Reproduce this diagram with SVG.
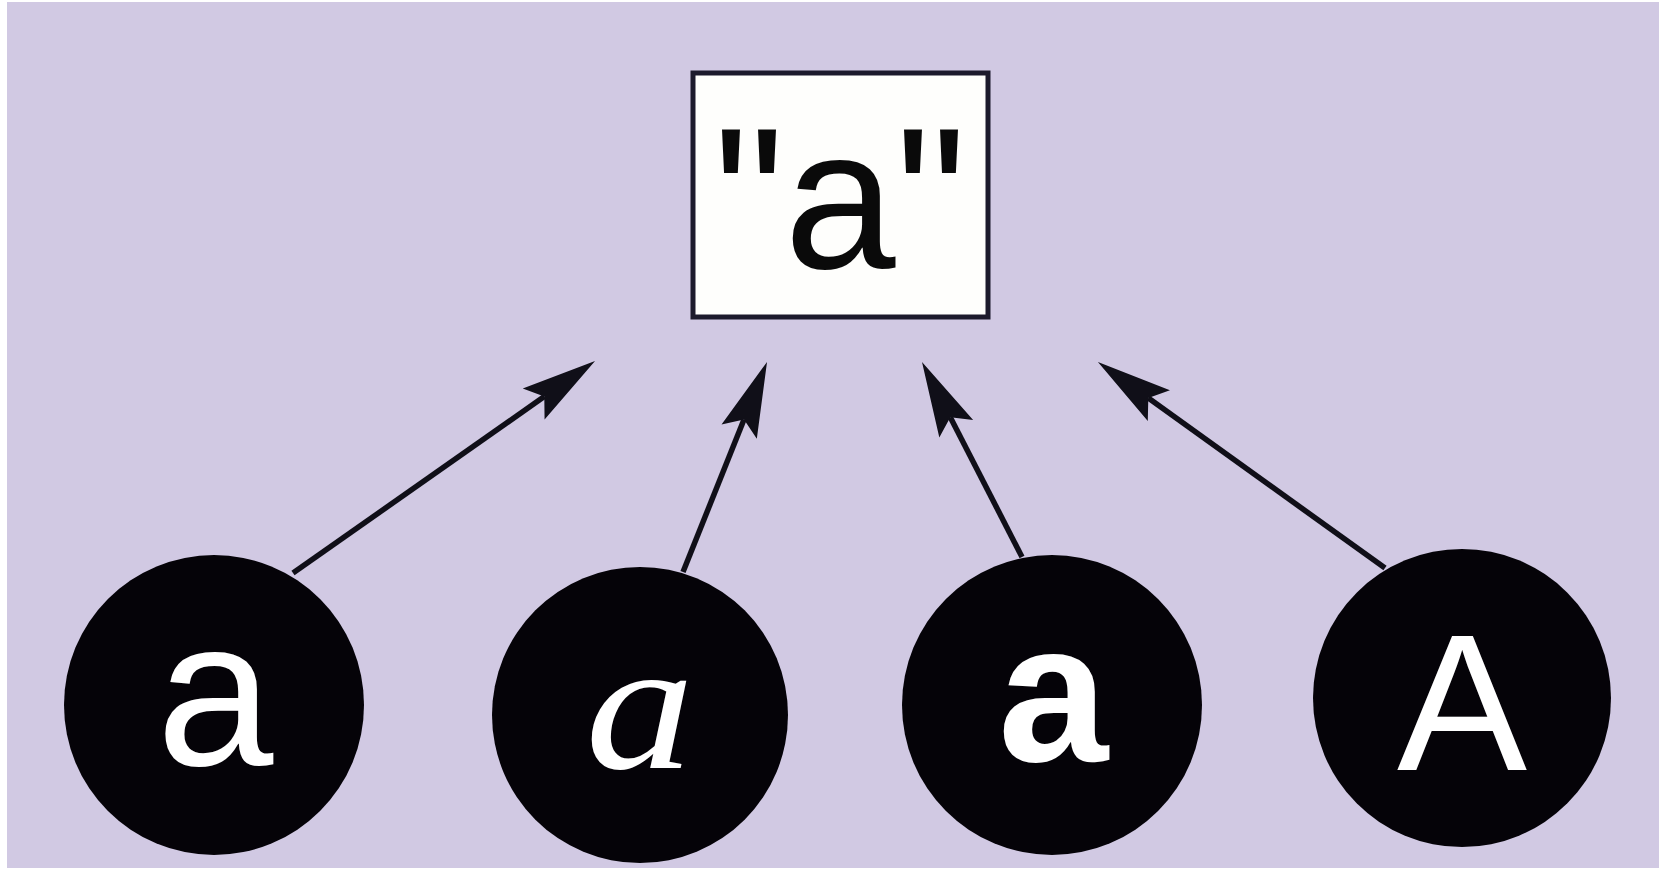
<svg xmlns="http://www.w3.org/2000/svg" width="1659" height="870" viewBox="0 0 1659 870">
  <style>
    .node-circle { fill: #050308; }
    .lbl { fill: #ffffff; text-anchor: middle; font-family: "Liberation Sans", Arial, sans-serif; }
    .conn { stroke: #100f18; stroke-width: 5.5; fill: none; marker-end: url(#arrow); }
  </style>
  <defs>
    <marker id="arrow" markerUnits="userSpaceOnUse" markerWidth="100" markerHeight="60" viewBox="-20 -30 100 60" refX="0" refY="0" orient="auto" overflow="visible">
      <path d="M62,0 L-13,-19 L0,0 L-13,19 Z" fill="#100f18"/>
    </marker>
  </defs>
  <rect x="0" y="0" width="1659" height="870" fill="#ffffff"/>
  <rect x="7" y="2" width="1652" height="866" fill="#d1c9e3"/>

  <g id="connectors">
    <line class="conn" x1="293" y1="573" x2="544.3" y2="396.6"/>
    <line class="conn" x1="683" y1="572" x2="744" y2="419.5"/>
    <line class="conn" x1="1022" y1="557" x2="950.3" y2="417.2"/>
    <line class="conn" x1="1385" y1="568" x2="1148.3" y2="398.1"/>
  </g>

  <g id="concept">
    <rect x="693" y="73" width="295" height="244" fill="#fefefc" stroke="#1c1a2c" stroke-width="5"/>
    <text x="840" y="268" text-anchor="middle" font-family="Liberation Sans, Arial, sans-serif" font-size="200" fill="#0a0a0a">"a"</text>
  </g>

  <g id="glyph-regular">
    <circle class="node-circle" cx="214" cy="705" r="150"/>
    <text class="lbl" x="215" y="765" font-size="210">a</text>
  </g>

  <g id="glyph-script">
    <circle class="node-circle" cx="640" cy="715" r="148"/>
    <text class="lbl" x="0" y="0" font-size="190" font-style="italic" style="font-family:'Liberation Serif',serif" transform="translate(640 768) scale(1.15 0.98)">a</text>
  </g>

  <g id="glyph-bold">
    <circle class="node-circle" cx="1052" cy="705" r="150"/>
    <text class="lbl" x="1053" y="761" font-size="198" font-weight="bold">a</text>
  </g>

  <g id="glyph-capital">
    <circle class="node-circle" cx="1462" cy="698" r="149"/>
    <text class="lbl" x="1462" y="770" font-size="195">A</text>
  </g>
</svg>
